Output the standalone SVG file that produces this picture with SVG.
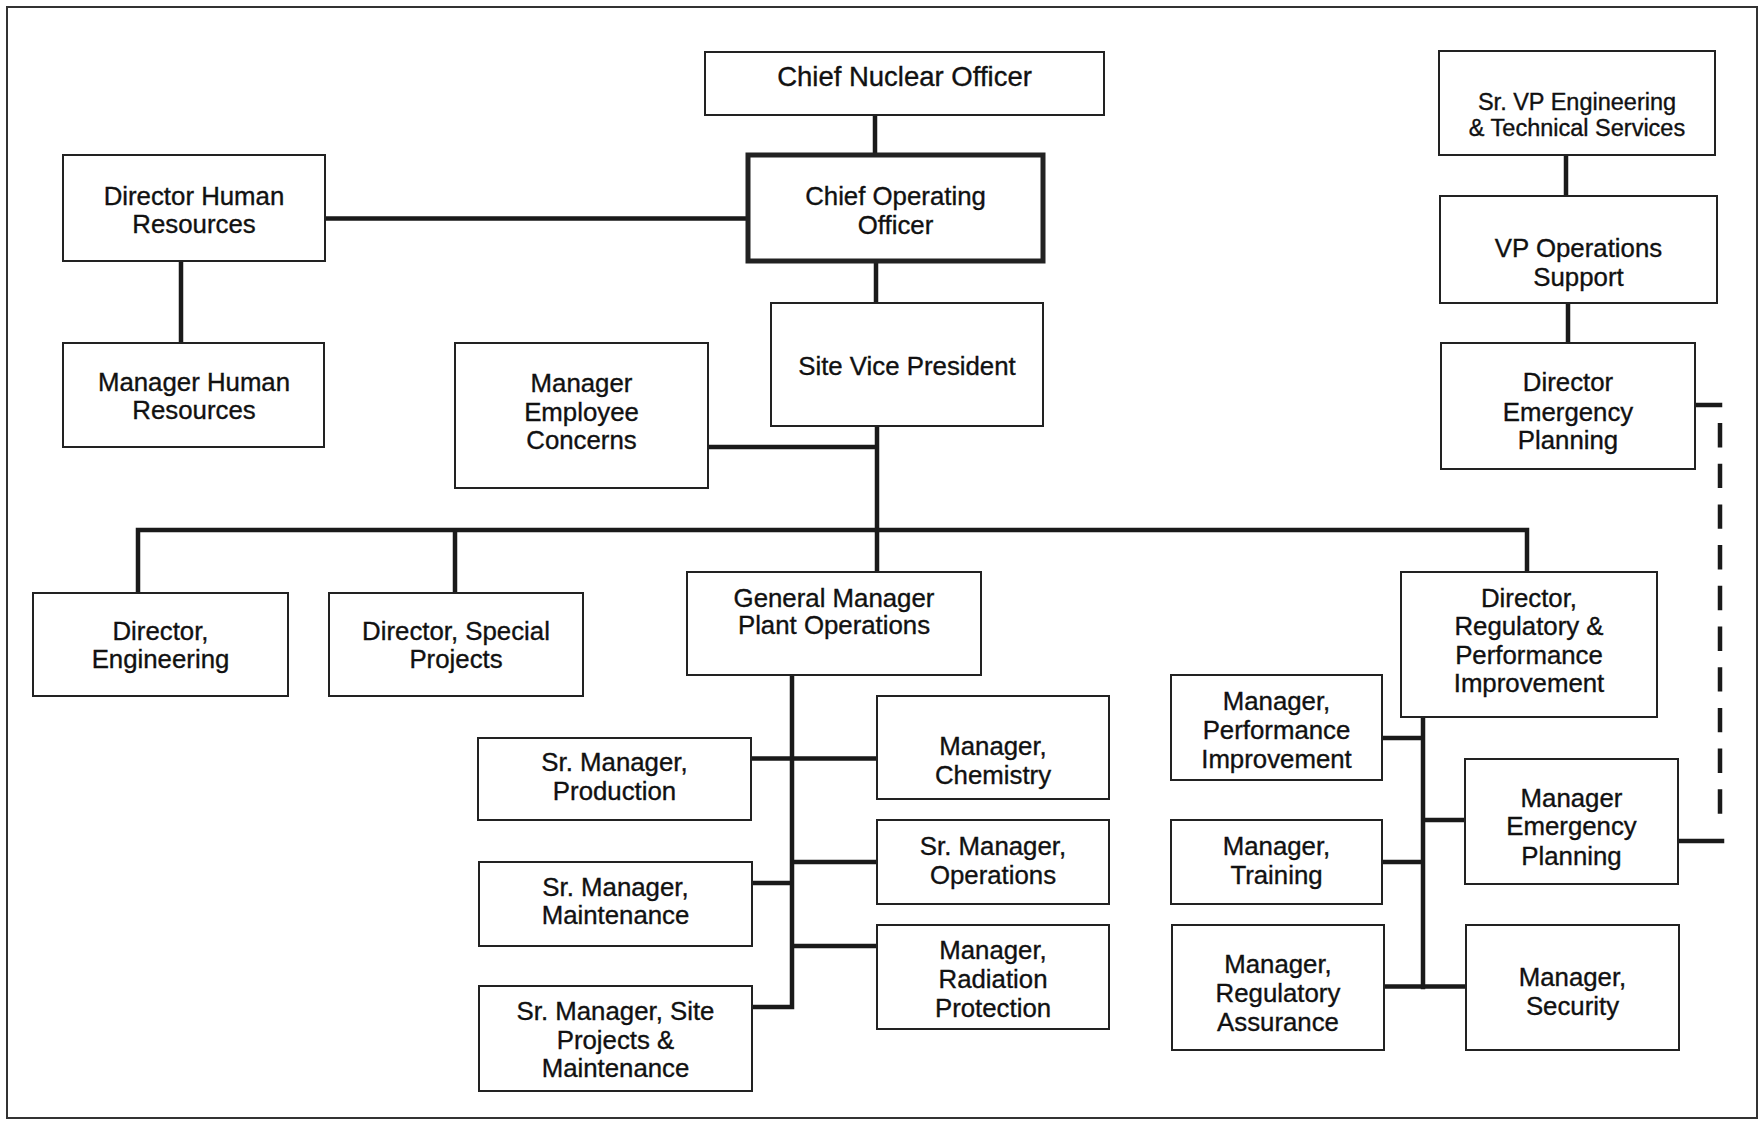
<svg xmlns="http://www.w3.org/2000/svg" width="1762" height="1121" viewBox="0 0 1762 1121">
<style>
.box{fill:#fff;stroke:#222;stroke-width:2}
.thick{stroke-width:5}
.t{font-family:"Liberation Sans",Arial,sans-serif;font-size:25.8px;fill:#111;stroke:#111;stroke-width:0.35;text-anchor:middle}
.s{font-size:23.5px}
.big{font-size:27.5px}
.c{fill:none;stroke:#1a1a1a;stroke-width:4.5;stroke-linecap:square}
.d{fill:none;stroke:#1a1a1a;stroke-width:4.5;stroke-dasharray:24.4 16.3}
</style>
<rect x="0" y="0" width="1762" height="1121" fill="#fff"/>
<rect x="7" y="7" width="1750" height="1111" fill="none" stroke="#333" stroke-width="2"/>
<g id="connectors">
<path class="c" d="M875 115V155M876 261V303M877 426V530M708 447H877M325 218.5H748M181 261V343"/>
<path class="c" d="M138 530H1527M138 530V593M455 530V593M877 530V572M1527 530V572"/>
<path class="c" d="M792 675V1007M751 758.5H877M752 883H792M752 1007H792M792 862H877M792 946H877"/>
<path class="c" d="M1423 717V987M1382 738H1423M1423 820H1465M1382 862H1423M1384 986.5H1466"/>
<path class="c" d="M1566 155V196M1568 303V343M1695 405H1720M1678 841H1722"/>
<path class="d" d="M1720 423V816"/>
</g>
<g id="cno"><rect class="box" x="705" y="52" width="399" height="63"/><text class="t big" x="904.5" y="86">Chief Nuclear Officer</text></g>
<g id="coo"><rect class="box thick" x="748" y="155" width="295" height="106"/><text class="t" x="895.5" y="205">Chief Operating</text><text class="t" x="895.5" y="233.5">Officer</text></g>
<g id="svp"><rect class="box" x="771" y="303" width="272" height="123"/><text class="t" x="907" y="375">Site Vice President</text></g>
<g id="dirhr"><rect class="box" x="63" y="155" width="262" height="106"/><text class="t" x="194" y="205">Director Human</text><text class="t" x="194" y="232.5">Resources</text></g>
<g id="mgrhr"><rect class="box" x="63" y="343" width="261" height="104"/><text class="t" x="194" y="391">Manager Human</text><text class="t" x="194" y="419">Resources</text></g>
<g id="mgrec"><rect class="box" x="455" y="343" width="253" height="145"/><text class="t" x="581.5" y="392">Manager</text><text class="t" x="581.5" y="420.5">Employee</text><text class="t" x="581.5" y="449">Concerns</text></g>
<g id="srvpeng"><rect class="box" x="1439" y="51" width="276" height="104"/><text class="t s" x="1577" y="110">Sr. VP Engineering</text><text class="t s" x="1577" y="136">&amp; Technical Services</text></g>
<g id="vpops"><rect class="box" x="1440" y="196" width="277" height="107"/><text class="t" x="1578.5" y="257">VP Operations</text><text class="t" x="1578.5" y="286">Support</text></g>
<g id="direp"><rect class="box" x="1441" y="343" width="254" height="126"/><text class="t" x="1568" y="391">Director</text><text class="t" x="1568" y="420.5">Emergency</text><text class="t" x="1568" y="449">Planning</text></g>
<g id="direng"><rect class="box" x="33" y="593" width="255" height="103"/><text class="t" x="160.5" y="640">Director,</text><text class="t" x="160.5" y="668">Engineering</text></g>
<g id="dirsp"><rect class="box" x="329" y="593" width="254" height="103"/><text class="t" x="456" y="640">Director, Special</text><text class="t" x="456" y="668">Projects</text></g>
<g id="gm"><rect class="box" x="687" y="572" width="294" height="103"/><text class="t" x="834" y="606.5">General Manager</text><text class="t" x="834" y="633.5">Plant Operations</text></g>
<g id="dirreg"><rect class="box" x="1401" y="572" width="256" height="145"/><text class="t" x="1529" y="606.5">Director,</text><text class="t" x="1529" y="634.5">Regulatory &amp;</text><text class="t" x="1529" y="663.5">Performance</text><text class="t" x="1529" y="691.5">Improvement</text></g>
<g id="srmgrprod"><rect class="box" x="478" y="738" width="273" height="82"/><text class="t" x="614.5" y="771">Sr. Manager,</text><text class="t" x="614.5" y="800">Production</text></g>
<g id="srmgrmaint"><rect class="box" x="479" y="862" width="273" height="84"/><text class="t" x="615.5" y="895.5">Sr. Manager,</text><text class="t" x="615.5" y="924">Maintenance</text></g>
<g id="srmgrsite"><rect class="box" x="479" y="986" width="273" height="105"/><text class="t" x="615.5" y="1019.5">Sr. Manager, Site</text><text class="t" x="615.5" y="1049">Projects &amp;</text><text class="t" x="615.5" y="1077">Maintenance</text></g>
<g id="mgrchem"><rect class="box" x="877" y="696" width="232" height="103"/><text class="t" x="993" y="754.5">Manager,</text><text class="t" x="993" y="784">Chemistry</text></g>
<g id="srmgrops"><rect class="box" x="877" y="820" width="232" height="84"/><text class="t" x="993" y="854.5">Sr. Manager,</text><text class="t" x="993" y="884">Operations</text></g>
<g id="mgrrad"><rect class="box" x="877" y="925" width="232" height="104"/><text class="t" x="993" y="958.5">Manager,</text><text class="t" x="993" y="988">Radiation</text><text class="t" x="993" y="1016.5">Protection</text></g>
<g id="mgrpi"><rect class="box" x="1171" y="675" width="211" height="105"/><text class="t" x="1276.5" y="710">Manager,</text><text class="t" x="1276.5" y="738.5">Performance</text><text class="t" x="1276.5" y="767.5">Improvement</text></g>
<g id="mgrtrain"><rect class="box" x="1171" y="820" width="211" height="84"/><text class="t" x="1276.5" y="854.5">Manager,</text><text class="t" x="1276.5" y="884">Training</text></g>
<g id="mgrra"><rect class="box" x="1172" y="925" width="212" height="125"/><text class="t" x="1278" y="973">Manager,</text><text class="t" x="1278" y="1002">Regulatory</text><text class="t" x="1278" y="1030.5">Assurance</text></g>
<g id="mgrep"><rect class="box" x="1465" y="759" width="213" height="125"/><text class="t" x="1571.5" y="806.5">Manager</text><text class="t" x="1571.5" y="835">Emergency</text><text class="t" x="1571.5" y="864.5">Planning</text></g>
<g id="mgrsec"><rect class="box" x="1466" y="925" width="213" height="125"/><text class="t" x="1572.5" y="985.5">Manager,</text><text class="t" x="1572.5" y="1015">Security</text></g>
</svg>
